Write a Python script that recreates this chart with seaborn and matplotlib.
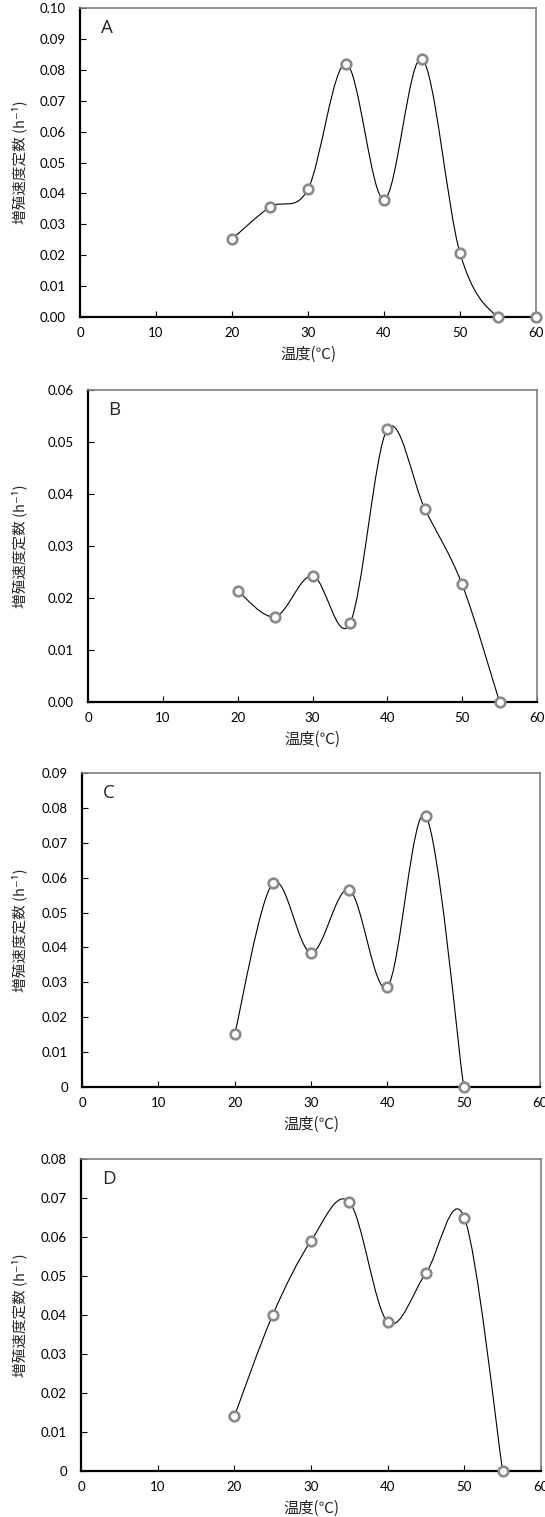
import numpy as np
import matplotlib.pyplot as plt
import seaborn as sns
from matplotlib.path import Path
from matplotlib.patches import PathPatch

# ---------- data ----------
temp_a = [20, 25, 30, 35, 40, 45, 50, 55, 60]
rate_a = [0.0252, 0.0356, 0.0414, 0.0820, 0.0380, 0.0835, 0.0207, 0.0, 0.0]

temp_b = [20, 25, 30, 35, 40, 45, 50, 55]
rate_b = [0.0214, 0.0164, 0.0243, 0.0151, 0.0525, 0.0372, 0.0226, 0.0]

temp_c = [20, 25, 30, 35, 40, 45, 50]
rate_c = [0.0151, 0.0584, 0.0385, 0.0565, 0.0287, 0.0778, 0.0]

temp_d = [20, 25, 30, 35, 40, 45, 50, 55]
rate_d = [0.0140, 0.0400, 0.0590, 0.0690, 0.0382, 0.0508, 0.0650, 0.0]

letters = ["A", "B", "C", "D"]
y_max = [0.10, 0.06, 0.09, 0.08]
y_fmt = ["{:.2f}", "{:.2f}", "{:g}", "{:g}"]
x_label = "温度(℃)"
y_label = "増殖速度定数 (h⁻¹)"

# ---------- layout (pixels) ----------
W, H = 545, 1517
# left, right, top, bottom of each axes
boxes = [(80, 536, 8, 317), (88, 537, 390, 702), (82, 540, 773, 1087), (81, 541, 1159, 1471)]

sns.set_style("ticks")
plt.rcParams["font.family"] = ["Lato", "Noto Sans CJK JP", "DejaVu Sans"]
cjk = ["Noto Sans CJK JP", "DejaVu Sans"]

fig = plt.figure(figsize=(W / 100, H / 100), dpi=100)


def smooth_path(xs, ys):
    # Excel-like smoothed line: cubic Bezier through the points
    pts = np.column_stack([xs, ys]).astype(float)
    n = len(pts)
    verts = [pts[0]]
    codes = [Path.MOVETO]
    for i in range(n - 1):
        p0 = pts[max(i - 1, 0)]
        p1 = pts[i]
        p2 = pts[i + 1]
        p3 = pts[min(i + 2, n - 1)]
        verts += [p1 + (p2 - p0) / 6, p2 - (p3 - p1) / 6, p2]
        codes += [Path.CURVE4] * 3
    return Path(verts, codes)


series = [(temp_a, rate_a), (temp_b, rate_b), (temp_c, rate_c), (temp_d, rate_d)]

for k, ((xs, ys), (l, r, t, b)) in enumerate(zip(series, boxes)):
    ax = fig.add_axes([l / W, 1 - b / H, (r - l) / W, (b - t) / H])
    ax.add_patch(PathPatch(smooth_path(xs, ys), facecolor="none",
                           edgecolor="black", lw=0.8, zorder=2))
    sns.scatterplot(x=xs, y=ys, ax=ax, s=48, color="white",
                    edgecolor="#8a8a8a", linewidth=1.9, zorder=3, clip_on=False)

    ax.set_xlim(0, 60)
    ax.set_ylim(0, y_max[k])
    ax.set_xticks(range(0, 61, 10))
    yt = np.arange(0, y_max[k] + 1e-9, 0.01)
    ax.set_yticks(yt)
    ax.set_yticklabels([y_fmt[k].format(round(v, 2)) for v in yt])
    ax.tick_params(direction="in", length=4, width=0.8, labelsize=9.5,
                   colors="black")
    ax.tick_params(axis="x", pad=7)
    ax.tick_params(axis="y", pad=10)

    for side in ["left", "bottom"]:
        ax.spines[side].set_color("black")
        ax.spines[side].set_linewidth(1.6)
    for side in ["top", "right"]:
        ax.spines[side].set_visible(True)
        ax.spines[side].set_color("#7f7f7f")
        ax.spines[side].set_linewidth(1.2)

    ax.set_xlabel(x_label, family=cjk, fontsize=11)
    ax.set_ylabel(y_label, family=cjk, fontsize=10.5)
    ax.xaxis.set_label_coords(0.5, -37 / (b - t))
    ax.yaxis.set_label_coords((19 - l) / (r - l), 0.5)
    ax.xaxis.label.set_va("center")
    ax.yaxis.label.set_va("center")

    ax.text(0.045, 0.965, letters[k], transform=ax.transAxes, fontsize=13.5,
            va="top", ha="left", family="Open Sans")

fig.savefig("out.png", dpi=100)
